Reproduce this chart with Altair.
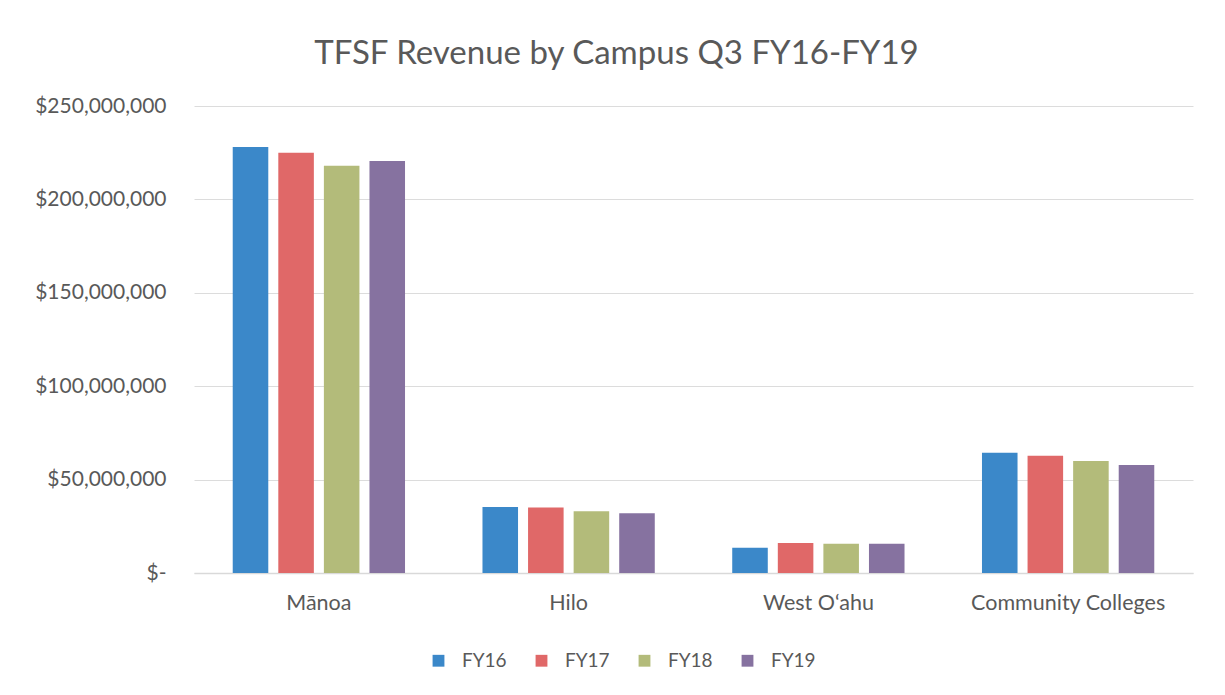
import altair as alt
import pandas as pd

campuses = ["Mānoa", "Hilo", "West O‘ahu", "Community Colleges"]
years = ["FY16", "FY17", "FY18", "FY19"]
fy16 = [228_000_000, 35_300_000, 13_500_000, 64_400_000]
fy17 = [225_000_000, 35_000_000, 16_000_000, 62_800_000]
fy18 = [218_000_000, 33_000_000, 15_700_000, 60_000_000]
fy19 = [220_500_000, 32_000_000, 15_700_000, 57_800_000]
colors = ["#3b88c9", "#e06868", "#b3bb7a", "#8672a0"]

rows = []
for yr, vals in zip(years, [fy16, fy17, fy18, fy19]):
    for c, v in zip(campuses, vals):
        rows.append({"Campus": c, "Year": yr, "Revenue": v})
df = pd.DataFrame(rows)

FONT = "Lato"
GRAY = "#595959"

chart = alt.Chart(df).mark_bar().encode(
    x=alt.X("Campus:N", sort=campuses,
            scale=alt.Scale(paddingInner=0.27, paddingOuter=0.135),
            axis=alt.Axis(title=None, labelAngle=0, labelFontSize=21.5, labelColor=GRAY,
                          labelFont=FONT, labelPadding=19, ticks=False,
                          domainColor="#d9d9d9", domainWidth=1.5, labelLimit=300)),
    xOffset=alt.XOffset("Year:N", sort=years,
                        scale=alt.Scale(paddingInner=0.22, paddingOuter=0.11)),
    y=alt.Y("Revenue:Q", scale=alt.Scale(domain=[0, 250_000_000], nice=False),
            axis=alt.Axis(title=None, values=[0, 50e6, 100e6, 150e6, 200e6, 250e6],
                          labelExpr="datum.value == 0 ? '$-\u2007' : '$' + format(datum.value, ',')",
                          labelFontSize=21, labelColor=GRAY, labelFont=FONT,
                          labelPadding=28, ticks=False, domain=False,
                          gridColor="#dcdcdc", gridWidth=1)),
    color=alt.Color("Year:N", sort=years,
                    scale=alt.Scale(domain=years, range=colors),
                    legend=alt.Legend(title=None, orient="none", direction="horizontal",
                                      legendX=235, legendY=545, symbolType="square",
                                      symbolSize=140, symbolStrokeWidth=0,
                                      labelFontSize=19, labelColor=GRAY, labelFont=FONT,
                                      columnPadding=25, labelOffset=14)),
).properties(
    width=999, height=467,
    title=alt.Title("TFSF Revenue by Campus Q3 FY16-FY19", fontSize=33, font=FONT,
                    color=GRAY, fontWeight="normal", anchor="middle", dx=-77, offset=24),
    autosize=alt.AutoSizeParams(type="none"),
    padding={"left": 186, "top": 98, "right": 20, "bottom": 100},
).configure(background="white").configure_view(stroke=None, strokeWidth=0)

chart.save("out.html", embed_options={"renderer": "svg", "actions": False})
